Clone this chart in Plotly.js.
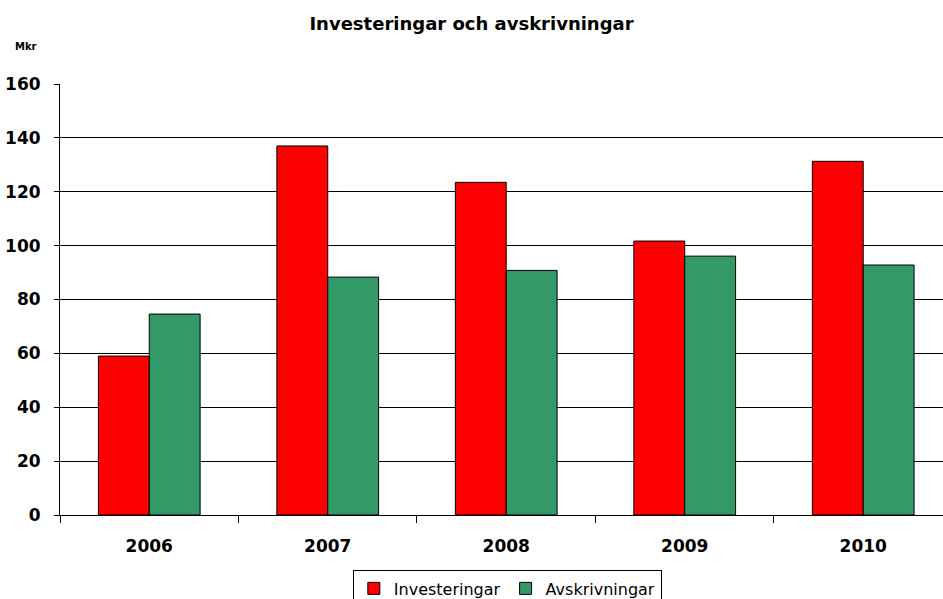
<!DOCTYPE html>
<html><head><meta charset="utf-8">
<script src="https://cdn.plot.ly/plotly-3.0.1.min.js"></script>
<style>html,body{margin:0;padding:0;background:#fff}#chart{width:943px;height:599px}</style>
</head><body><div id="chart"></div>
<script>
const years = ["2006","2007","2008","2009","2010"];
const investeringar = [59.0, 137.0, 123.5, 101.7, 131.3];
const avskrivningar = [74.6, 88.3, 90.8, 96.1, 92.8];
const yTicks = [0,20,40,60,80,100,120,140,160];

const traces = [
  {type:"bar", name:"Investeringar", x:years, y:investeringar,
   marker:{color:"#FF0000", line:{color:"#000", width:1}}},
  {type:"bar", name:"Avskrivningar", x:years, y:avskrivningar,
   marker:{color:"#339966", line:{color:"#000", width:1}}}
];
const layout = {
  width:943, height:599,
  paper_bgcolor:"#fff", plot_bgcolor:"#fff",
  margin:{l:60, r:0, t:84, b:84},
  font:{family:"DejaVu Sans, Arial, sans-serif", color:"#000"},
  title:{text:"<b>Investeringar och avskrivningar</b>", font:{size:18}, x:0.5, xref:"container", y:0.96, yref:"container", yanchor:"middle"},
  barmode:"group", bargap:0.43, bargroupgap:0,
  showlegend:true,
  legend:{orientation:"h", x:0.538, xanchor:"center", xref:"container", y:0.0476, yref:"container", yanchor:"top",
          bordercolor:"#000", borderwidth:1, font:{size:16}, traceorder:"normal", itemwidth:20, tracegroupgap:0},
  xaxis:{type:"category", range:[-0.5, 4.447], showline:true, linecolor:"#000", linewidth:1,
         ticks:"outside", tickson:"boundaries", ticklen:7, tickcolor:"#000",
         tickfont:{size:17}, tickprefix:"<b>", ticksuffix:"</b>", ticklabelstandoff:16, showgrid:false, fixedrange:true},
  yaxis:{range:[0,160], tickvals:yTicks, ticktext:yTicks.map(v=>"<b>"+v+"</b>"), showline:true, linecolor:"#000", linewidth:1,
         ticks:"outside", ticklen:5, tickcolor:"#000", tickfont:{size:17}, ticklabelstandoff:10,
         showgrid:true, gridcolor:"#000", gridwidth:1, zeroline:false, fixedrange:true},
  annotations:[{text:"<b>Mkr</b>", xref:"paper", yref:"paper", x:-0.0529, y:1.087, xanchor:"left", yanchor:"middle",
                showarrow:false, font:{size:10}}]
};
Plotly.newPlot("chart", traces, layout, {displayModeBar:false, staticPlot:true});
</script></body></html>
